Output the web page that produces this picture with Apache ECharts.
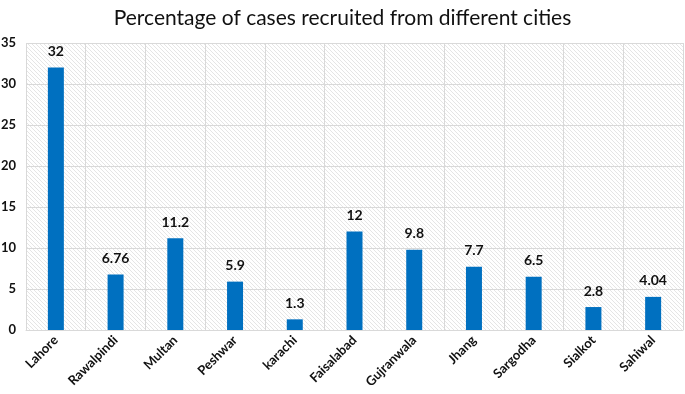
<!DOCTYPE html>
<html><head><meta charset="utf-8">
<script src="https://cdn.jsdelivr.net/npm/echarts@6/dist/echarts.min.js"></script>
<style>html,body{margin:0;padding:0;background:#fff}#c{width:685px;height:394px}</style>
</head><body><div id="c"></div>
<script>
const categories = ["Lahore","Rawalpindi","Multan","Peshwar","karachi","Faisalabad","Gujranwala","Jhang","Sargodha","Sialkot","Sahiwal"];
const values = [32, 6.76, 11.2, 5.9, 1.3, 12, 9.8, 7.7, 6.5, 2.8, 4.04];
const valueLabels = ["32","6.76","11.2","5.9","1.3","12","9.8","7.7","6.5","2.8","4.04"];

const pc = document.createElement('canvas');
pc.width = 4; pc.height = 4;
const ctx = pc.getContext('2d');
ctx.fillStyle = '#ffffff'; ctx.fillRect(0,0,4,4);
ctx.strokeStyle = '#dedede'; ctx.lineWidth = 0.8;
ctx.beginPath();
ctx.moveTo(0,0); ctx.lineTo(4,4);
ctx.moveTo(-2,2); ctx.lineTo(2,6);
ctx.moveTo(2,-2); ctx.lineTo(6,2);
ctx.stroke();

const FONT = 'Lato';
const chart = echarts.init(document.getElementById('c'), null, {renderer:'canvas'});
chart.setOption({
  animation:false,
  title:{text:'Percentage of cases recruited from different cities',left:'center',top:3,
    textStyle:{fontFamily:FONT,fontSize:21,fontWeight:'normal',color:'#111'}},
  grid:{left:26,right:2,top:43,bottom:64,show:true,borderWidth:0,containLabel:false,outerBoundsMode:'none',
    backgroundColor:{image:pc,repeat:'repeat'}},
  xAxis:{type:'category',data:categories,
    axisLine:{show:true,lineStyle:{color:'#d9d9d9'}},axisTick:{show:false},
    splitLine:{show:true,lineStyle:{color:'#d9d9d9',width:1}},
    axisLabel:{rotate:45,interval:0,fontFamily:FONT,fontSize:13,fontWeight:'bold',color:'#111',margin:8}},
  yAxis:{type:'value',min:0,max:35,interval:5,
    axisLine:{show:false},axisTick:{show:false},
    splitLine:{show:true,lineStyle:{color:'#d9d9d9',width:1}},
    axisLabel:{fontFamily:FONT,fontSize:13,fontWeight:'bold',color:'#111',margin:10}},
  series:[{type:'bar',data:values,barWidth:16,
    itemStyle:{color:'#0070C0'},
    label:{show:true,position:'top',distance:9,fontFamily:FONT,fontSize:14,fontWeight:'bold',color:'#111',
      formatter:p=>valueLabels[p.dataIndex]}}]
});
</script></body></html>
